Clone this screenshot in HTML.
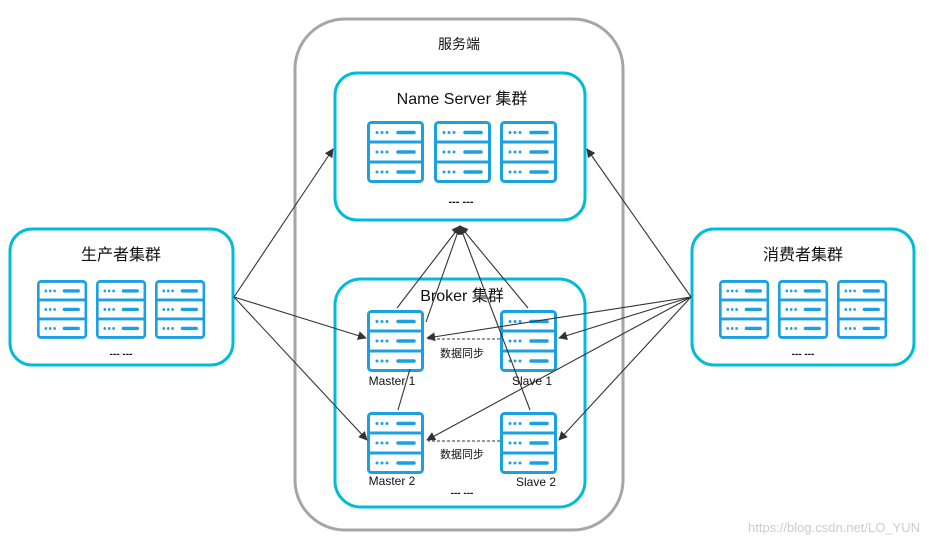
<!DOCTYPE html>
<html><head><meta charset="utf-8"><style>
body{margin:0;background:#fff}
text{font-family:"Liberation Sans","Noto Sans CJK SC",sans-serif;fill:#111}
</style></head><body>
<svg width="929" height="545" viewBox="0 0 929 545" xmlns="http://www.w3.org/2000/svg">
<defs>
<marker id="a" viewBox="0 0 10 10" refX="9" refY="5" markerWidth="9" markerHeight="9" orient="auto-start-reverse" markerUnits="userSpaceOnUse"><path d="M0,0 L10,5 L0,10 z" fill="#333"/></marker>
<g id="srv">
<rect x="1.5" y="1.5" width="54" height="59" rx="3" fill="#fff" stroke="#1ba0e2" stroke-width="3"/>
<line x1="1.5" y1="21" x2="55.5" y2="21" stroke="#1ba0e2" stroke-width="3"/>
<line x1="1.5" y1="41" x2="55.5" y2="41" stroke="#1ba0e2" stroke-width="3"/>
<g fill="#1ba0e2">
<circle cx="10" cy="11.5" r="1.5"/><circle cx="15" cy="11.5" r="1.5"/><circle cx="20" cy="11.5" r="1.5"/>
<circle cx="10" cy="31" r="1.5"/><circle cx="15" cy="31" r="1.5"/><circle cx="20" cy="31" r="1.5"/>
<circle cx="10" cy="51" r="1.5"/><circle cx="15" cy="51" r="1.5"/><circle cx="20" cy="51" r="1.5"/>
</g>
<g stroke="#1ba0e2" stroke-width="3.5" stroke-linecap="round">
<line x1="31" y1="11.5" x2="47" y2="11.5"/><line x1="31" y1="31" x2="47" y2="31"/><line x1="31" y1="51" x2="47" y2="51"/>
</g>
</g>
</defs>
<rect x="295" y="19" width="328" height="511" rx="50" fill="none" stroke="#a6a6a6" stroke-width="3"/>
<text x="459" y="49" font-size="14" text-anchor="middle">服务端</text>
<rect x="335" y="73" width="250" height="147" rx="22" fill="#fff" stroke="#00bcd9" stroke-width="3"/>
<text x="462" y="104" font-size="16" text-anchor="middle">Name Server 集群</text>
<use href="#srv" x="367" y="121"/><use href="#srv" x="434" y="121"/><use href="#srv" x="500" y="121"/>
<text x="461" y="205" font-size="11" font-weight="bold" text-anchor="middle">--- ---</text>
<rect x="335" y="279" width="250" height="228" rx="26" fill="#fff" stroke="#00bcd9" stroke-width="3"/>
<text x="462" y="301" font-size="16" text-anchor="middle">Broker 集群</text>
<rect x="10" y="229" width="223" height="136" rx="22" fill="#fff" stroke="#00bcd9" stroke-width="3"/>
<text x="121" y="260" font-size="16" text-anchor="middle">生产者集群</text>
<rect x="692" y="229" width="222" height="136" rx="22" fill="#fff" stroke="#00bcd9" stroke-width="3"/>
<text x="803" y="260" font-size="16" text-anchor="middle">消费者集群</text>
<g transform="translate(37,280) scale(0.88,0.95)"><use href="#srv"/></g>
<g transform="translate(96,280) scale(0.88,0.95)"><use href="#srv"/></g>
<g transform="translate(155,280) scale(0.88,0.95)"><use href="#srv"/></g>
<g transform="translate(719,280) scale(0.88,0.95)"><use href="#srv"/></g>
<g transform="translate(778,280) scale(0.88,0.95)"><use href="#srv"/></g>
<g transform="translate(837,280) scale(0.88,0.95)"><use href="#srv"/></g>
<text x="121" y="357" font-size="10" font-weight="bold" text-anchor="middle">--- ---</text>
<text x="803" y="357" font-size="10" font-weight="bold" text-anchor="middle">--- ---</text>
<use href="#srv" x="367" y="310"/><use href="#srv" x="500" y="310"/>
<use href="#srv" x="367" y="412"/><use href="#srv" x="500" y="412"/>
<g stroke="#333" stroke-width="1.1" fill="none">
<line x1="397" y1="308" x2="460" y2="226" marker-end="url(#a)"/>
<line x1="398" y1="410" x2="410" y2="369"/>
<line x1="426" y1="322" x2="460" y2="226" marker-end="url(#a)"/>
<line x1="528" y1="308" x2="460" y2="226" marker-end="url(#a)"/>
<line x1="530" y1="410" x2="460" y2="226" marker-end="url(#a)"/>
<line x1="234" y1="297" x2="333" y2="149" marker-end="url(#a)"/>
<line x1="234" y1="297" x2="366" y2="338" marker-end="url(#a)"/>
<line x1="234" y1="297" x2="367" y2="440" marker-end="url(#a)"/>
<line x1="691" y1="297" x2="587" y2="149" marker-end="url(#a)"/>
<line x1="691" y1="297" x2="427" y2="338" marker-end="url(#a)"/>
<line x1="691" y1="297" x2="559" y2="338" marker-end="url(#a)"/>
<line x1="691" y1="297" x2="427" y2="440" marker-end="url(#a)"/>
<line x1="691" y1="297" x2="559" y2="440" marker-end="url(#a)"/>
<line x1="500" y1="339" x2="428" y2="339" stroke-dasharray="3,2"/>
<line x1="500" y1="441" x2="428" y2="441" stroke-dasharray="3,2"/>
</g>
<text x="462" y="357" font-size="11" text-anchor="middle">数据同步</text>
<text x="462" y="458" font-size="11" text-anchor="middle">数据同步</text>
<text x="392" y="385" font-size="12" text-anchor="middle">Master 1</text>
<text x="532" y="385" font-size="12" text-anchor="middle">Slave 1</text>
<text x="392" y="485" font-size="12" text-anchor="middle">Master 2</text>
<text x="536" y="486" font-size="12" text-anchor="middle">Slave 2</text>
<text x="462" y="496" font-size="10" font-weight="bold" text-anchor="middle">--- ---</text>
<text x="920" y="532" font-size="13" text-anchor="end" style="fill:#ccc">https://blog.csdn.net/LO_YUN</text>
</svg>
</body></html>
